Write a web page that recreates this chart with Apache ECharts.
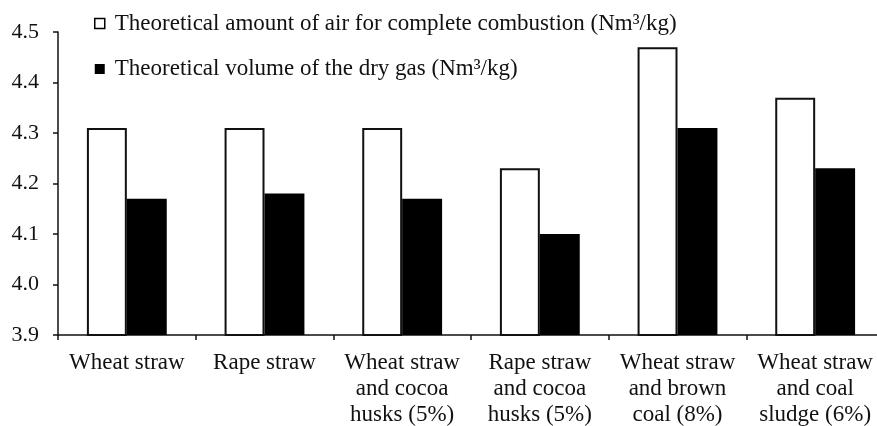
<!DOCTYPE html>
<html>
<head>
<meta charset="utf-8">
<script src="https://cdn.jsdelivr.net/npm/echarts@6/dist/echarts.min.js"></script>
<style>
html,body{margin:0;padding:0;background:#fff;}
#chart{width:877px;height:426px;}
</style>
</head>
<body>
<div id="chart"></div>
<script>
var categories = [
  "Wheat straw",
  "Rape straw",
  "Wheat straw\nand cocoa\nhusks (5%)",
  "Rape straw\nand cocoa\nhusks (5%)",
  "Wheat straw\nand brown\ncoal (8%)",
  "Wheat straw\nand coal\nsludge (6%)"
];
var airName = "Theoretical amount of air for complete combustion (Nm\u00B3/kg)";
var gasName = "Theoretical volume of the dry gas (Nm\u00B3/kg)";
var airValues = [4.31, 4.31, 4.31, 4.23, 4.47, 4.37];
var gasValues = [4.17, 4.18, 4.17, 4.10, 4.31, 4.23];
var yMin = 3.9, yMax = 4.5, yStep = 0.1;

var FONT = "Liberation Serif";
var chart = echarts.init(document.getElementById('chart'), null, {renderer: 'canvas'});
chart.setOption({
  animation: false,
  backgroundColor: '#fff',
  textStyle: {fontFamily: FONT, color: '#111'},
  legend: {
    orient: 'vertical',
    left: 89,
    top: 7,
    icon: 'rect',
    itemWidth: 10,
    itemHeight: 10,
    itemGap: 22.5,
    textStyle: {fontFamily: FONT, fontSize: 23, color: '#111', lineHeight: 22, padding: [0, 0, 0, 5]},
    data: [
      {name: airName, itemStyle: {color: '#fff', borderColor: '#000', borderWidth: 1.5}},
      {name: gasName, itemStyle: {color: '#000', borderColor: '#000', borderWidth: 0}}
    ]
  },
  grid: {left: 58, top: 32, bottom: 91, right: -7, containLabel: false, outerBoundsMode: 'none'},
  xAxis: {
    type: 'category',
    data: categories,
    axisLine: {lineStyle: {color: '#111', width: 1.5}},
    axisTick: {show: true, length: 5, inside: false, lineStyle: {color: '#111', width: 1.5}},
    axisLabel: {interval: 0, fontFamily: FONT, fontSize: 23, color: '#111', lineHeight: 26, margin: 15}
  },
  yAxis: {
    type: 'value',
    min: yMin, max: yMax, interval: yStep,
    splitLine: {show: false},
    axisLine: {show: true, lineStyle: {color: '#111', width: 1.5}},
    axisTick: {show: true, length: 5, lineStyle: {color: '#111', width: 1.5}},
    axisLabel: {fontFamily: FONT, fontSize: 22, color: '#111', margin: 19,
      formatter: function (v) { return v.toFixed(1); }}
  },
  series: [
    {
      name: airName, type: 'bar', data: airValues,
      barGap: '0%', barCategoryGap: '42%',
      itemStyle: {color: '#fff', borderColor: '#111', borderWidth: 2}
    },
    {
      name: gasName, type: 'bar', data: gasValues,
      barGap: '0%', barCategoryGap: '42%',
      itemStyle: {color: '#000', borderColor: '#000', borderWidth: 0}
    }
  ]
});
</script>
</body>
</html>
